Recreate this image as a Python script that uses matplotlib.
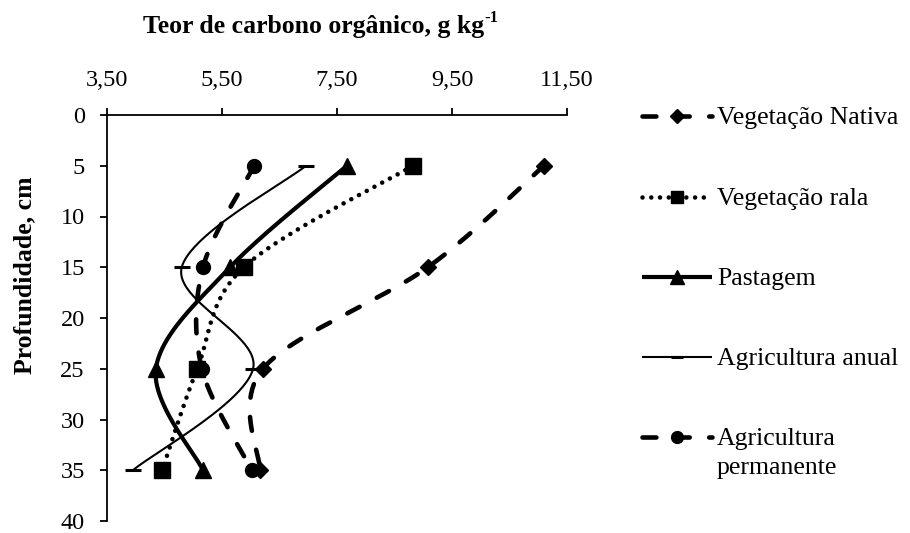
import numpy as np
import matplotlib
matplotlib.use('Agg')
import matplotlib.pyplot as plt
from matplotlib.lines import Line2D

plt.rcParams['font.family'] = 'Liberation Serif'
plt.rcParams['lines.scale_dashes'] = False

# profundidades (cm) e teores de carbono orgânico (g/kg)
profundidade = [5, 15, 25, 35]
veg_nativa = [11.10, 9.08, 6.21, 6.16]
veg_rala = [8.82, 5.88, 5.07, 4.46]
pastagem = [7.67, 5.64, 4.35, 5.17]
agri_anual = [6.96, 4.80, 6.04, 3.95]
agri_perm = [6.06, 5.17, 5.15, 6.02]

nomes = ['Vegetação Nativa', 'Vegetação rala', 'Pastagem',
         'Agricultura anual', 'Agricultura\npermanente']
xticks = [3.5, 5.5, 7.5, 9.5, 11.5]
yticks = list(range(0, 45, 5))

# estilo de cada série: linha, espessura, marcador, tamanho
estilos = [
    dict(ls=(0, (10, 14)), lw=3.3, marker='D', ms=8),
    dict(ls=(0, (0.01, 6.3)), lw=3.3, marker='s', ms=11),
    dict(ls='-', lw=3.0, marker='^', ms=11.5),
    dict(ls='-', lw=1.5, marker='_', ms=11),
    dict(ls=(0, (10, 14)), lw=3.3, marker='o', ms=10),
]

W, H = 910, 533
fig = plt.figure(figsize=(W / 100, H / 100), dpi=100)
ax = fig.add_axes([107 / W, 1 - 521 / H, 460 / W, 406 / H])
ax.set_xlim(3.5, 11.5)
ax.set_ylim(40, 0)


def suaviza(xs, ys, n=50):
    # curva de Bezier no estilo "linha suavizada" do Excel, em pixels
    pts = ax.transData.transform(np.column_stack([xs, ys]))
    P = np.vstack([pts[0], pts, pts[-1]])
    t = np.linspace(0, 1, n)[:, None]
    partes = []
    for i in range(1, len(P) - 2):
        p0, p1, p2, p3 = P[i - 1], P[i], P[i + 1], P[i + 2]
        c1 = p1 + (p2 - p0) / 6
        c2 = p2 - (p3 - p1) / 6
        seg = (1 - t) ** 3 * p1 + 3 * (1 - t) ** 2 * t * c1 + 3 * (1 - t) * t ** 2 * c2 + t ** 3 * p2
        partes.append(seg if i == 1 else seg[1:])
    return ax.transData.inverted().transform(np.vstack(partes))


series = [veg_nativa, veg_rala, pastagem, agri_anual, agri_perm]
for k, (vals, st) in enumerate(zip(series, estilos)):
    curva = suaviza(vals, profundidade)
    ax.plot(curva[:, 0], curva[:, 1], color='black', lw=st['lw'], ls=st['ls'],
            dash_capstyle='round', solid_capstyle='butt', zorder=2 + k, clip_on=False)
    mew = 2.2 if st['marker'] == '_' else 1
    ax.plot(vals, profundidade, ls='none', marker=st['marker'], ms=st['ms'],
            color='black', mew=mew, zorder=2 + k, clip_on=False)

# eixos: só esquerda e topo
for lado in ['right', 'bottom']:
    ax.spines[lado].set_visible(False)
ax.spines['left'].set_linewidth(1.3)
ax.spines['top'].set_linewidth(1.3)
ax.xaxis.tick_top()
ax.set_xticks(xticks)
ax.set_xticklabels([f'{v:.2f}'.replace('.', ',') for v in xticks])
ax.set_yticks(yticks)
ax.tick_params(axis='x', direction='out', length=5, width=1.3, pad=12, labelsize=17.5)
ax.tick_params(axis='y', direction='out', length=5, width=1.3, pad=11, labelsize=17.5)

titulo = fig.text(143 / W, 1 - 33 / H, 'Teor de carbono orgânico, g kg',
                  fontsize=18.5, fontweight='bold', va='baseline', ha='left')
ax.annotate('-1', xy=(1.0, 0.5), xycoords=titulo, ha='left', va='bottom',
            fontsize=12, fontweight='bold')
fig.text(25 / W, 1 - 275 / H, 'Profundidade, cm', rotation=90, fontsize=18.5,
         fontweight='bold', ha='center', va='center')

# legenda desenhada à mão, em pixels da figura
leg = fig.add_axes([0, 0, 1, 1])
leg.set_xlim(0, W)
leg.set_ylim(H, 0)
leg.axis('off')
ys_leg = [116, 197, 277, 357, 437]
for nome, st, yl in zip(nomes, estilos, ys_leg):
    leg.add_line(Line2D([642, 712], [yl, yl], color='black', lw=st['lw'], ls=st['ls'],
                        dash_capstyle='round', solid_capstyle='butt'))
    mew = 2.2 if st['marker'] == '_' else 1
    leg.add_line(Line2D([677], [yl], ls='none', marker=st['marker'], ms=st['ms'] * 0.85,
                        color='black', mew=mew))
    # cada linha do rótulo com a mesma base da primeira, 29 px abaixo
    for j, linha in enumerate(nome.split('\n')):
        leg.text(717, yl + 8 + 29 * j, linha, fontsize=18.5, ha='left', va='baseline')

fig.savefig('out.png', dpi=100)
